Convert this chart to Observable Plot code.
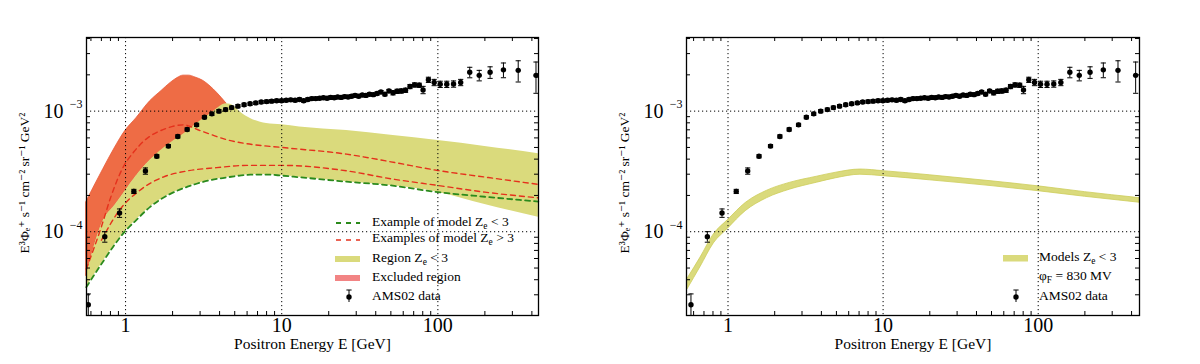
<!DOCTYPE html>
<html><head><meta charset="utf-8">
<script src="https://cdn.jsdelivr.net/npm/d3@7"></script>
<script src="https://cdn.jsdelivr.net/npm/@observablehq/plot@0.6"></script>
<style>
body{margin:0;background:#fff;}
#wrap{display:flex;width:1200px;height:364px;}
#wrap > div{width:600px;height:364px;}
#wrap svg, #wrap svg text{font-family:"Liberation Serif","DejaVu Serif",serif !important;}
</style></head><body><div id="wrap"><div id="left"></div><div id="right"></div></div>
<script>
// ---------- AMS-02 positron data (E^3 flux, units of 1e-3) ----------
const amsE = [0.577,0.736,0.915,1.13,1.34,1.585,1.88,2.16,2.48,2.85,3.2,3.57,3.96,4.37,4.78,5.24,5.74,6.27,6.82,7.39,8.0,8.62,9.28,9.97,10.68,11.42,12.19,13.0,13.83,14.69,15.59,16.52,17.49,18.49,19.51,20.58,21.69,22.83,24.02,25.3,26.6,28.0,29.5,31.1,32.8,34.6,36.5,38.6,40.8,43.2,45.8,48.6,51.6,54.8,58.3,62.1,66.3,70.9,76.0,80.4,87,94.7,103.5,114,126,140,160,184,216,263,327,425];
const amsFlux = [0.0248,0.091,0.143,0.216,0.319,0.422,0.513,0.617,0.705,0.77,0.89,0.95,1.00,1.03,1.07,1.10,1.13,1.15,1.17,1.19,1.20,1.21,1.22,1.22,1.23,1.24,1.23,1.25,1.22,1.25,1.27,1.27,1.28,1.29,1.28,1.30,1.29,1.31,1.30,1.32,1.31,1.33,1.35,1.33,1.36,1.35,1.38,1.37,1.40,1.44,1.38,1.47,1.42,1.46,1.47,1.49,1.60,1.65,1.64,1.50,1.82,1.73,1.67,1.67,1.68,1.73,2.10,1.98,2.10,2.20,2.18,1.98];
const amsRelErr = [0.23,0.10,0.08,0.04,0.06,0.03,0.03,0.03,0.03,0.03,0.03,0.03,0.03,0.03,0.03,0.03,0.03,0.03,0.03,0.03,0.03,0.03,0.03,0.03,0.03,0.03,0.03,0.03,0.03,0.03,0.03,0.03,0.03,0.03,0.03,0.03,0.03,0.03,0.03,0.03,0.03,0.03,0.03,0.03,0.03,0.03,0.03,0.03,0.03,0.03,0.03,0.03,0.04,0.04,0.04,0.04,0.04,0.04,0.04,0.07,0.05,0.06,0.06,0.06,0.06,0.06,0.10,0.10,0.11,0.14,0.20,0.29];

// ---------- Left panel: regions ----------
const regionE      = [0.56,0.72,0.85,1.0,1.17,1.43,1.92,2.4,2.85,3.5,4.44,4.95,5.5,6.3,8,10,13,26,50,100,200,440];
const regionTop    = [4.3e-5,1.24e-4,1.64e-4,2.2e-4,2.9e-4,3.9e-4,5.4e-4,6.6e-4,7.85e-4,9.5e-4,1.15e-3,1.1e-3,9.7e-4,8.7e-4,7.9e-4,7.7e-4,7.4e-4,6.9e-4,6.3e-4,5.7e-4,5.1e-4,4.43e-4];
const regionBottom = [3.47e-5,5.7e-5,7.8e-5,1.02e-4,1.25e-4,1.6e-4,2.05e-4,2.32e-4,2.5e-4,2.68e-4,2.82e-4,2.88e-4,2.93e-4,2.97e-4,2.98e-4,2.92e-4,2.83e-4,2.6e-4,2.42e-4,2.13e-4,1.68e-4,1.32e-4];
const greenLine    = [3.47e-5,5.7e-5,7.8e-5,1.02e-4,1.25e-4,1.6e-4,2.05e-4,2.32e-4,2.5e-4,2.68e-4,2.82e-4,2.88e-4,2.93e-4,2.97e-4,2.98e-4,2.92e-4,2.83e-4,2.6e-4,2.42e-4,2.13e-4,1.95e-4,1.78e-4];
const excludedE    = [0.56,0.72,0.85,1.0,1.17,1.43,1.7,1.95,2.15,2.35,2.55,2.8,3.15,3.5,3.85,4.44];
const excludedTop  = [1.76e-4,3.3e-4,4.9e-4,6.9e-4,8.7e-4,1.2e-3,1.47e-3,1.72e-3,1.88e-3,1.97e-3,1.97e-3,1.9e-3,1.78e-3,1.6e-3,1.42e-3,1.15e-3];
const excludedLow  = [4.3e-5,1.24e-4,1.64e-4,2.2e-4,2.9e-4,3.9e-4,4.6e-4,5.4e-4,5.9e-4,6.4e-4,6.9e-4,7.6e-4,8.5e-4,9.3e-4,1.0e-3,1.15e-3];
const red1E = [0.56,0.7,0.8,0.95,1.13,1.3,1.83,2.34,3.0,4.44,5.8,10,26,50,100,200,440];
const red1  = [4.9e-5,1.1e-4,1.9e-4,3.3e-4,4.6e-4,5.6e-4,7.2e-4,7.7e-4,6.9e-4,5.8e-4,5.4e-4,5.0e-4,4.4e-4,3.8e-4,3.22e-4,2.84e-4,2.47e-4];
const red2E = [0.7,0.91,1.23,1.74,2.5,3.83,6,10,26,50,100,200,440];
const red2  = [8.5e-5,1.5e-4,2.2e-4,2.84e-4,3.2e-4,3.4e-4,3.55e-4,3.55e-4,3.2e-4,2.75e-4,2.42e-4,2.13e-4,1.91e-4];

// ---------- Right panel: band ----------
const bandE    = [0.55,0.665,0.81,1.0,1.3,1.79,2.5,3.75,5,7.14,10,20,50,100,200,450];
const bandLow  = [3.35e-5,5.1e-5,8.0e-5,1.06e-4,1.48e-4,1.90e-4,2.23e-4,2.55e-4,2.78e-4,2.97e-4,2.89e-4,2.67e-4,2.39e-4,2.17e-4,1.95e-4,1.74e-4];
const bandHigh = [4.1e-5,6.1e-5,9.5e-5,1.25e-4,1.73e-4,2.19e-4,2.54e-4,2.86e-4,3.09e-4,3.28e-4,3.18e-4,2.94e-4,2.62e-4,2.38e-4,2.13e-4,1.90e-4];

// ---------- Axis ticks ----------
const xMajor = [1,10,100];
const yMajor = [1e-4,1e-3];
const yExponent = ["−4","−3"];
const xMinor = [0.6,0.7,0.8,0.9,2,3,4,5,6,7,8,9,20,30,40,50,60,70,80,90,200,300,400];
const yMinor = [3e-5,4e-5,5e-5,6e-5,7e-5,8e-5,9e-5,2e-4,3e-4,4e-4,5e-4,6e-4,7e-4,8e-4,9e-4,2e-3,3e-3,4e-3];
const xLabel = "Positron Energy E [GeV]";
const yLabel = "E³Φₑ⁺ s⁻¹ cm⁻² sr⁻¹ GeV²";

const ams = amsE.map((e,i)=>({e, f: amsFlux[i]*1e-3, lo: amsFlux[i]*1e-3*(1-amsRelErr[i]), hi: amsFlux[i]*1e-3*(1+amsRelErr[i])}));
const region = regionE.map((e,i)=>({e, lo: regionBottom[i], hi: regionTop[i], g: greenLine[i]}));
const excluded = excludedE.map((e,i)=>({e, lo: excludedLow[i], hi: excludedTop[i]}));
const r1 = red1E.map((e,i)=>({e, y: red1[i]}));
const r2 = red2E.map((e,i)=>({e, y: red2[i]}));
const band = bandE.map((e,i)=>({e, lo: bandLow[i], hi: bandHigh[i]}));
const yExp = yMajor.map((v,i)=>({v, t: yExponent[i]}));

const FONT = '"Liberation Serif","DejaVu Serif",serif';
const YELLOW = "#dada7c", ORANGE = "#ee6c45", PINK = "#f28484", RED = "#e5311c", GREEN = "#2b8a1c";
const capSymbol = {draw(ctx, size){ const w = Math.sqrt(size/Math.PI); ctx.moveTo(-w,0); ctx.lineTo(w,0); }};
const H = 364, MT = 37, MB = 49, ML = 86;
const yDomain = [2.02e-5, 4.08e-3];

function dataMarks(){
  return [
    Plot.ruleX(ams, {x:"e", y1:"lo", y2:"hi", stroke:"black", strokeWidth:1, clip:true}),
    Plot.dot(ams, {x:"e", y:"hi", symbol: capSymbol, r:2.6, stroke:"black", strokeWidth:1, clip:true}),
    Plot.dot(ams, {x:"e", y:"lo", symbol: capSymbol, r:2.6, stroke:"black", strokeWidth:1, clip:true}),
    Plot.dot(ams, {x:"e", y:"f", r:2.7, fill:"black", stroke:"none", clip:true})
  ];
}

function panel(xDomain, MR, inner){
  const pw = 600 - ML - MR, ph = H - MT - MB;
  const svg = Plot.plot({
    width:600, height:H, marginLeft:ML, marginRight:MR, marginTop:MT, marginBottom:MB,
    x:{type:"log", domain:xDomain},
    y:{type:"log", domain:yDomain},
    style:{fontFamily:FONT, background:"white", color:"black"},
    marks:[
      ...inner,
      Plot.ruleX(xMajor, {x:d=>d, stroke:"black", strokeDasharray:"1.2,2.8", strokeWidth:1}),
      Plot.ruleY(yMajor, {y:d=>d, stroke:"black", strokeDasharray:"1.2,2.8", strokeWidth:1}),
      ...dataMarks(),
      Plot.tickX(xMinor, {x:d=>d, insetBottom: ph-4, stroke:"black"}),
      Plot.tickX(xMinor, {x:d=>d, insetTop: ph-4, stroke:"black"}),
      Plot.tickY(yMinor, {y:d=>d, insetRight: pw-4, stroke:"black"}),
      Plot.tickY(yMinor, {y:d=>d, insetLeft: pw-4, stroke:"black"}),
      Plot.frame({stroke:"black", strokeWidth:1.3}),
      Plot.axisX({ticks:xMajor, tickFormat:d=>String(d), tickSize:0, tickPadding:2, fontSize:20, fontFamily:FONT, label:null}),
      Plot.axisY({ticks:yMajor, tickFormat:d=>"10", tickSize:0, tickPadding:23, fontSize:20, fontFamily:FONT, label:null}),
      Plot.text(yExp, {y:"v", text:"t", frameAnchor:"left", dx:-4, dy:-7, textAnchor:"end", fontSize:12, fontFamily:FONT}),
      Plot.text([xLabel], {text:d=>d, frameAnchor:"bottom", dy:33, fontSize:15.5, fontFamily:FONT})
    ]
  });
  d3.select(svg).append("text")
    .attr("transform", "translate(26,183) rotate(-90)")
    .attr("text-anchor","middle").attr("dominant-baseline","middle")
    .attr("font-size",13.5).attr("fill","black").attr("font-family",FONT)
    .text(yLabel);
  return svg;
}

function subText(g, x, y, parts, size){
  const t = g.append("text").attr("x",x).attr("y",y).attr("dominant-baseline","middle")
    .attr("text-anchor","start").attr("font-size",size).attr("fill","black").attr("font-family",FONT);
  let back = 0;
  parts.forEach(p => {
    if (typeof p === "string") { const s = t.append("tspan").text(p); if (back) { s.attr("dy", -back); back = 0; } }
    else { t.append("tspan").attr("font-size", size*0.7).attr("dy", 4).text(p.sub); back = 4; }
  });
  return t;
}

function amsLegend(g, x, y){
  g.append("line").attr("x1",x).attr("x2",x).attr("y1",y-7).attr("y2",y+5).attr("stroke","black");
  g.append("line").attr("x1",x-2.6).attr("x2",x+2.6).attr("y1",y-7).attr("y2",y-7).attr("stroke","black");
  g.append("circle").attr("cx",x).attr("cy",y).attr("r",2.7).attr("fill","black");
}

// ---------- Left ----------
const left = panel([0.562, 441], 62, [
  Plot.areaY(excluded, {x:"e", y1:"lo", y2:"hi", fill:ORANGE, stroke:"#e85a38", strokeWidth:0.8, curve:"monotone-x"}),
  Plot.areaY(region, {x:"e", y1:"lo", y2:"hi", fill:YELLOW, curve:"monotone-x"}),
  Plot.line(r1, {x:"e", y:"y", stroke:RED, strokeWidth:1.4, strokeDasharray:"5,4", curve:"monotone-x"}),
  Plot.line(r2, {x:"e", y:"y", stroke:RED, strokeWidth:1.4, strokeDasharray:"5,4", curve:"monotone-x"}),
  Plot.line(region, {x:"e", y:"g", stroke:GREEN, strokeWidth:1.8, strokeDasharray:"5,4", curve:"monotone-x"})
]);
document.getElementById("left").appendChild(left);
{
  const g = d3.select(left).append("g");
  const fs = 13.5;
  g.append("line").attr("x1",336).attr("x2",360).attr("y1",223).attr("y2",223).attr("stroke",GREEN).attr("stroke-width",1.8).attr("stroke-dasharray","5,5");
  subText(g, 372, 222.7, ["Example of model Z",{sub:"e"}," < 3"], fs);
  g.append("line").attr("x1",336).attr("x2",360).attr("y1",240).attr("y2",240).attr("stroke",RED).attr("stroke-width",1.4).attr("stroke-dasharray","5,5");
  subText(g, 372, 239.3, ["Examples of model Z",{sub:"e"}," > 3"], fs);
  g.append("rect").attr("x",335).attr("y",256).attr("width",25).attr("height",6).attr("fill",YELLOW);
  subText(g, 372, 258.7, ["Region Z",{sub:"e"}," < 3"], fs);
  g.append("rect").attr("x",335).attr("y",275).attr("width",25).attr("height",6).attr("fill",PINK);
  subText(g, 372, 277.7, ["Excluded region"], fs);
  amsLegend(g, 349, 297);
  subText(g, 372, 296.7, ["AMS02 data"], fs);
}

// ---------- Right ----------
const right = panel([0.54, 450], 61, [
  Plot.areaY(band, {x:"e", y1:"lo", y2:"hi", fill:YELLOW, stroke:"#cdcd5a", strokeWidth:0.8, curve:"monotone-x"})
]);
document.getElementById("right").appendChild(right);
{
  const g = d3.select(right).append("g");
  const fs = 13.5;
  g.append("rect").attr("x",403).attr("y",255).attr("width",25).attr("height",6.5).attr("fill",YELLOW);
  subText(g, 439, 258.3, ["Models Z",{sub:"e"}," < 3"], fs);
  subText(g, 439, 277, ["φ",{sub:"F"}," = 830 MV"], fs);
  amsLegend(g, 416, 297);
  subText(g, 439, 296.7, ["AMS02 data"], fs);
}
</script></body></html>
